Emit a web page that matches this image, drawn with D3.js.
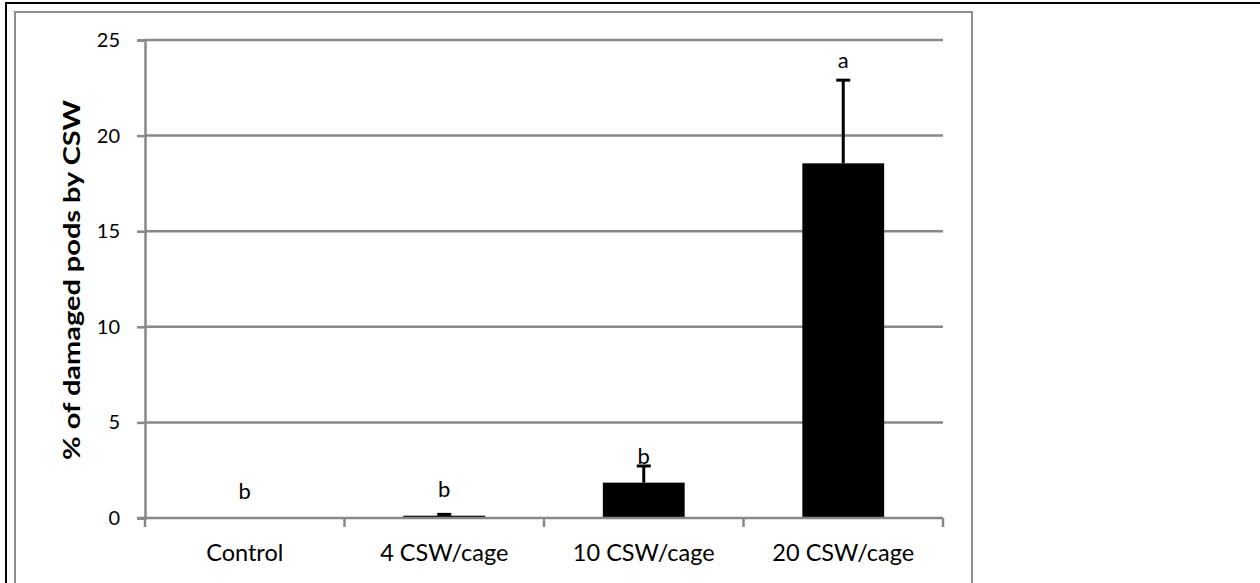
<!DOCTYPE html>
<html>
<head>
<meta charset="utf-8">
<script src="https://cdn.jsdelivr.net/npm/d3@7"></script>
<style>
  html, body { margin: 0; padding: 0; background: #fff; }
  svg { display: block; }
  text { font-family: Lato, "Open Sans", sans-serif; fill: #000; }
</style>
</head>
<body>
<svg id="chart" width="1260" height="583"></svg>
<script>
// Pod damage by cabbage seedpod weevil (CSW) at four cage densities
const categories = ["Control", "4 CSW/cage", "10 CSW/cage", "20 CSW/cage"];
const meanDamage = [0, 0.12, 1.85, 18.55];      // mean % damaged pods
const seDamage   = [0, 0.07, 0.87, 4.35];       // upper error bar
const groupLetters = ["b", "b", "b", "a"];      // significance groups
const letterOverError = [false, false, false, true];
const yTicks = [0, 5, 10, 15, 20, 25];

const svg = d3.select("#chart");
const W = 1260, H = 583;

// outer frame (top and left edges)
svg.append("path")
  .attr("d", `M6,${H} V3 H${W}`)
  .attr("fill", "none").attr("stroke", "#000").attr("stroke-width", 2);

// chart area frame
svg.append("rect")
  .attr("x", 15).attr("y", 12).attr("width", 957).attr("height", H + 10)
  .attr("fill", "none").attr("stroke", "#8e8e8e").attr("stroke-width", 2);

const plot = { left: 145, right: 943, top: 40, bottom: 518 };

const y = d3.scaleLinear().domain([0, 25]).range([plot.bottom, plot.top]);
const xCat = d3.scaleBand().domain(categories).range([plot.left, plot.right])
  .paddingInner(0).paddingOuter(0);
const xBar = d3.scaleBand().domain(categories).range([plot.left, plot.right])
  .paddingInner(0.59).paddingOuter(0.295);

const gridColor = "#888888";

// horizontal gridlines
svg.append("g").selectAll("line").data(yTicks.filter(d => d > 0)).join("line")
  .attr("x1", plot.left).attr("x2", plot.right)
  .attr("y1", d => y(d)).attr("y2", d => y(d))
  .attr("stroke", gridColor).attr("stroke-width", 2.5);

// y axis
const yAxis = svg.append("g").attr("transform", `translate(${plot.left},0)`)
  .call(d3.axisLeft(y).tickValues(yTicks).tickSize(8).tickPadding(17).tickFormat(d3.format("d")));
yAxis.select(".domain").attr("stroke", gridColor).attr("stroke-width", 2.5);
yAxis.selectAll(".tick line").attr("stroke", gridColor).attr("stroke-width", 2.5);
yAxis.selectAll(".tick text").attr("font-size", 20).attr("font-family", "Lato").attr("fill", "#000");

// bars
svg.append("g").selectAll("rect").data(categories).join("rect")
  .attr("x", d => xBar(d))
  .attr("width", xBar.bandwidth())
  .attr("y", (d, i) => y(meanDamage[i]))
  .attr("height", (d, i) => y(0) - y(meanDamage[i]))
  .attr("fill", "#000");

// upper error bars
const eb = svg.append("g").attr("stroke", "#000").attr("stroke-width", 3);
categories.forEach((c, i) => {
  if (seDamage[i] <= 0) return;
  const cx = xBar(c) + xBar.bandwidth() / 2;
  const top = y(meanDamage[i] + seDamage[i]);
  eb.append("line").attr("x1", cx).attr("x2", cx)
    .attr("y1", y(meanDamage[i])).attr("y2", top);
  eb.append("line").attr("x1", cx - 7).attr("x2", cx + 7)
    .attr("y1", top).attr("y2", top);
});

// x axis baseline and category ticks at band boundaries
const xAxis = svg.append("g").attr("transform", `translate(0,${plot.bottom})`)
  .call(d3.axisBottom(xCat).tickSize(0).tickPadding(26));
xAxis.select(".domain").remove();
xAxis.selectAll(".tick text").attr("font-size", 23.5).attr("font-family", "Lato").attr("fill", "#000");
svg.append("line")
  .attr("x1", plot.left - 8).attr("x2", plot.right)
  .attr("y1", plot.bottom).attr("y2", plot.bottom)
  .attr("stroke", gridColor).attr("stroke-width", 2.5);
const bounds = categories.map(c => xCat(c)).concat([xCat.range()[1]]);
svg.append("g").selectAll("line").data(bounds).join("line")
  .attr("x1", d => d).attr("x2", d => d)
  .attr("y1", plot.bottom).attr("y2", plot.bottom + 9)
  .attr("stroke", gridColor).attr("stroke-width", 2.5);

// significance letters
svg.append("g").selectAll("text").data(categories).join("text")
  .attr("x", d => xBar(d) + xBar.bandwidth() / 2)
  .attr("y", (d, i) => letterOverError[i]
      ? y(meanDamage[i] + seDamage[i]) - 12
      : y(meanDamage[i]) - 19)
  .attr("text-anchor", "middle")
  .attr("font-size", 22)
  .text((d, i) => groupLetters[i]);

// y axis title
svg.append("text")
  .attr("transform", "translate(80,280) rotate(-90)")
  .attr("text-anchor", "middle")
  .attr("font-size", 22).attr("font-weight", "bold")
  .attr("textLength", 360).attr("lengthAdjust", "spacingAndGlyphs")
  .text("% of damaged pods by CSW");
</script>
</body>
</html>
